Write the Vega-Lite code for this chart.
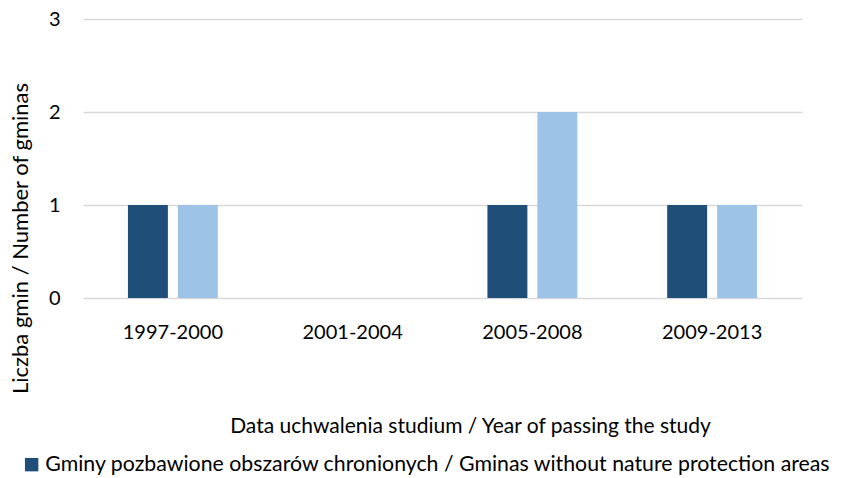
{
  "$schema": "https://vega.github.io/schema/vega-lite/v6.json",
  "width": 719,
  "height": 279,
  "autosize": {"type": "none"},
  "padding": {"left": 83, "top": 19, "right": 54, "bottom": 180},
  "background": "white",
  "config": {
    "font": "Lato",
    "view": {"stroke": null}
  },
  "data": {
    "values": [
      {"period": "1997-2000", "series": "Gminy pozbawione obszarów chronionych / Gminas without nature protection areas", "count": 1},
      {"period": "1997-2000", "series": "Gminy z obszarami chronionymi / Gminas with nature protection areas", "count": 1},
      {"period": "2001-2004", "series": "Gminy pozbawione obszarów chronionych / Gminas without nature protection areas", "count": 0},
      {"period": "2001-2004", "series": "Gminy z obszarami chronionymi / Gminas with nature protection areas", "count": 0},
      {"period": "2005-2008", "series": "Gminy pozbawione obszarów chronionych / Gminas without nature protection areas", "count": 1},
      {"period": "2005-2008", "series": "Gminy z obszarami chronionymi / Gminas with nature protection areas", "count": 2},
      {"period": "2009-2013", "series": "Gminy pozbawione obszarów chronionych / Gminas without nature protection areas", "count": 1},
      {"period": "2009-2013", "series": "Gminy z obszarami chronionymi / Gminas with nature protection areas", "count": 1}
    ]
  },
  "mark": {"type": "bar"},
  "encoding": {
    "x": {
      "field": "period",
      "type": "nominal",
      "sort": null,
      "scale": {"paddingInner": 0.5, "paddingOuter": 0.25},
      "axis": {
        "title": "Data uchwalenia studium / Year of passing the study",
        "titleFont": "Lato",
        "titleFontSize": 21,
        "titleFontWeight": "normal",
        "titleColor": "#000000",
        "titleX": 387,
        "titleY": 134,
        "titleBaseline": "alphabetic",
        "labelAngle": 0,
        "labelFontSize": 20,
        "labelColor": "#000000",
        "labelBaseline": "alphabetic",
        "labelPadding": 40,
        "domain": false,
        "ticks": false,
        "grid": false
      }
    },
    "xOffset": {
      "field": "series",
      "type": "nominal",
      "sort": null,
      "scale": {"paddingInner": 0.2, "paddingOuter": 0}
    },
    "y": {
      "field": "count",
      "type": "quantitative",
      "scale": {"domain": [0, 3], "nice": false},
      "axis": {
        "title": "Liczba gmin / Number of gminas",
        "titleFont": "Lato",
        "titleFontSize": 22,
        "titleFontWeight": "normal",
        "titleColor": "#000000",
        "titleX": -56,
        "titleY": 219,
        "titleBaseline": "alphabetic",
        "values": [0, 1, 2, 3],
        "format": "d",
        "labelFontSize": 20,
        "labelColor": "#000000",
        "labelPadding": 23,
        "domain": false,
        "ticks": false,
        "grid": true,
        "gridColor": "#d9d9d9",
        "gridWidth": 1.5
      }
    },
    "color": {
      "field": "series",
      "type": "nominal",
      "sort": null,
      "scale": {"range": ["#1f4e79", "#9dc3e6"]},
      "legend": {
        "title": null,
        "orient": "none",
        "legendX": -62,
        "legendY": 435,
        "values": ["Gminy pozbawione obszarów chronionych / Gminas without nature protection areas"],
        "symbolType": "square",
        "symbolSize": 180,
        "symbolStrokeWidth": 0,
        "labelFontSize": 21.3,
        "labelColor": "#000000",
        "labelLimit": 0,
        "labelOffset": 3
      }
    }
  }
}
